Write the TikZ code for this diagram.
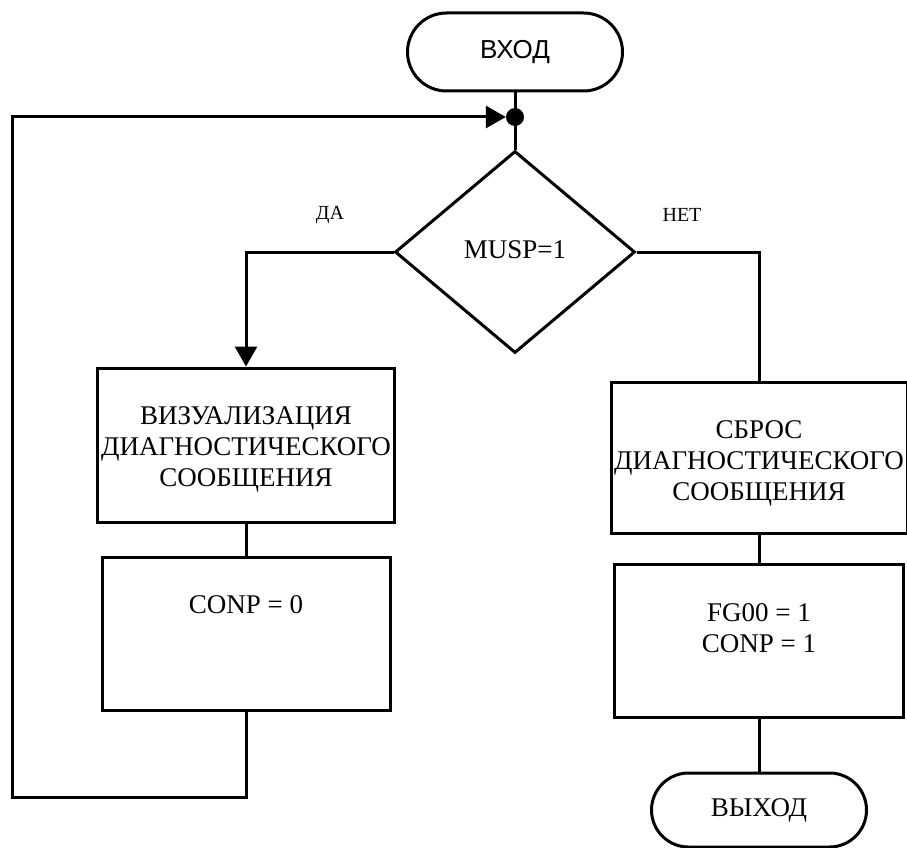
\documentclass[tikz,border=0pt]{standalone}
\usepackage{fontspec}
\setmainfont{Liberation Serif}
\newfontfamily\arialf{Liberation Sans}
\usetikzlibrary{shapes.geometric,arrows.meta}
\tikzset{
  ln/.style={line width=3pt},
  procbox/.style={draw,line width=3pt,rectangle,inner sep=0pt},
  termbox/.style={draw,line width=3pt,rectangle,inner sep=0pt,align=center},
  txt/.style={inner sep=0pt,align=center,font=\fontsize{27}{31}\selectfont},
  lab/.style={inner sep=0pt,font=\fontsize{20}{24}\selectfont},
  tip/.style={-{Triangle[length=20pt,width=22pt]}}
}
\begin{document}
\begin{tikzpicture}[x=1pt,y=-1pt]
\useasboundingbox (0,0) rectangle (907,848);
% terminals
\node[termbox,rounded corners=39pt,minimum width=215pt,minimum height=78pt,font=\arialf\fontsize{26}{30}\selectfont] (start) at (515,52) {\raisebox{3pt}{ВХОД}};
\node[termbox,rounded corners=37pt,minimum width=215pt,minimum height=74pt,font=\fontsize{27}{30}\selectfont] (stop) at (759,810) {\raisebox{5pt}{ВЫХОД}};
% junction
\node[circle,fill=black,inner sep=0pt,minimum size=18pt] (dot) at (515,117) {};
% decision
\node[draw,ln,diamond,inner sep=0pt,minimum width=240pt,minimum height=202pt,font=\fontsize{27}{30}\selectfont] (dec) at (515,252) {\raisebox{4pt}{MUSP=1}};
% left column
\node[procbox,minimum width=297pt,minimum height=154pt] (lb1) at (246,445) {};
\node[txt] (lt1) at (246,449) {ВИЗУАЛИЗАЦИЯ\\ДИАГНОСТИЧЕСКОГО\\СООБЩЕНИЯ};
\node[procbox,minimum width=288pt,minimum height=153pt] (lb2) at (246,633.5) {};
\node[txt] (lt2) at (246,605) {CONP = 0};
% right column
\node[procbox,minimum width=296pt,minimum height=151pt] (rb1) at (759,457.5) {};
\node[txt] (rt1) at (759,463) {СБРОС\\ДИАГНОСТИЧЕСКОГО\\СООБЩЕНИЯ};
\node[procbox,minimum width=289pt,minimum height=153pt] (rb2) at (759,640.5) {};
\node[txt] (rt2) at (759,628) {FG00 = 1\\CONP = 1};
% labels
\node[lab] (yes) at (330,215) {ДА};
\node[lab] (no) at (682,215) {НЕТ};
% connectors
\coordinate (lc) at (12,797);
\draw[ln] (start.south) -- (dot.center);
\draw[ln] (dot.center) -- (dec.north);
\draw[ln,tip] (dec.west) -| (lb1.north);
\draw[ln] (dec.east) -| (rb1.north);
\draw[ln] (lb1.south) -- (lb2.north);
\draw[ln] (rb1.south) -- (rb2.north);
\draw[ln] (rb2.south) -- (stop.north);
\draw[ln,tip] (lb2.south) |- (lc) |- (dot.west);
\end{tikzpicture}
\end{document}
